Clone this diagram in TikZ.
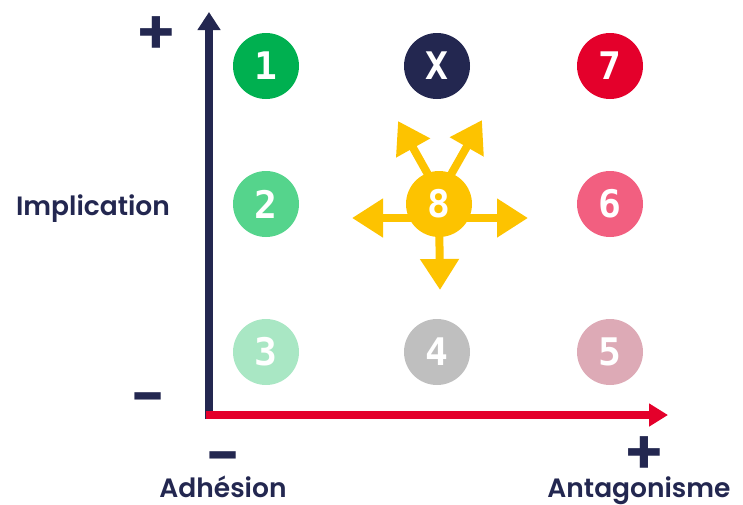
\documentclass[tikz,border=0pt]{standalone}
\usepackage{fontspec}
\setmainfont{Poppins SemiBold}
\newfontfamily\numfont{DejaVu Sans Mono Bold}
\usepackage{tikz}
\usetikzlibrary{arrows.meta}
\usetikzlibrary{positioning}

\definecolor{navy}{HTML}{232750}
\definecolor{axisred}{HTML}{E4002B}
\definecolor{green1}{HTML}{00B050}
\definecolor{green2}{HTML}{55D48C}
\definecolor{green3}{HTML}{A9E7C4}
\definecolor{grey4}{HTML}{BFBFBF}
\definecolor{pink5}{HTML}{DDAAB6}
\definecolor{pink6}{HTML}{F25F80}
\definecolor{red7}{HTML}{E4002B}
\definecolor{yellow8}{HTML}{FDC300}

\tikzset{
  dot/.style={circle, fill=#1, minimum size=66pt, inner sep=0pt, text=white, font=\numfont\fontsize{38}{38}\selectfont},
  axislabel/.style={text=navy, font=\fontsize{26.5}{26.5}\selectfont, anchor=base, inner sep=0pt},
  sign/.style={text=navy, font=\fontsize{62}{62}\selectfont, inner sep=0pt},
  burst/.style={yellow8, line width=8pt, -{Triangle[length=31pt,width=37pt]}}
}

\begin{document}
\begin{tikzpicture}[x=1pt,y=-1pt]
    \useasboundingbox (0,0) rectangle (743,504);
    % axes
    \coordinate (origin) at (209,415);
    \coordinate (ytip) at (209,12);
    \coordinate (xtip) at (668,415);
    \draw[navy, line width=7.5pt, -{Triangle[length=18pt,width=22pt]}] ([yshift=-4pt]origin) -- (ytip);
    \draw[axisred, line width=8pt, -{Triangle[length=19pt,width=22pt]}] ([xshift=-3.5pt]origin) -- (xtip);
    % signs and labels
    \node[sign] (yplus) at (156,36) {+};
    \node[sign] (yminus) at (149,406) {-};
    \node[sign] (xminus) at (224,465) {-};
    \node[sign] (xplus) at (644,456) {+};
    \node[axislabel] (ylabel) at (93,215) {Implication};
    \node[axislabel] (xleft) at (223,497) {Adhésion};
    \node[axislabel] (xright) at (639,497) {Antagonisme};
    % arrows of 8
    \coordinate (c8) at (439,204);
    \coordinate (left8) at (352,218);
    \coordinate (right8) at (528,218);
    \coordinate (down8) at (440,290);
    \coordinate (upleft8) at (398,121);
    \coordinate (upright8) at (482,120);
    \draw[burst] (439,218) -- (left8);
    \draw[burst] (439,218) -- (right8);
    \draw[burst] (c8) -- (down8);
    \draw[burst] (430,178) -- (upleft8);
    \draw[burst] (449,178) -- (upright8);
    % positions
    \node[dot=green1] (p1) at (266,66) {1};
    \node[dot=navy] (px) at (437,66) {X};
    \node[dot=red7] (p7) at (610,66) {7};
    \node[dot=green2] (p2) at (266,204) {2};
    \node[dot=yellow8] (p8) at (c8) {8};
    \node[dot=pink6] (p6) at (610,204) {6};
    \node[dot=green3] (p3) at (266,352) {3};
    \node[dot=grey4] (p4) at (437,352) {4};
    \node[dot=pink5] (p5) at (610,352) {5};
\end{tikzpicture}
\end{document}
